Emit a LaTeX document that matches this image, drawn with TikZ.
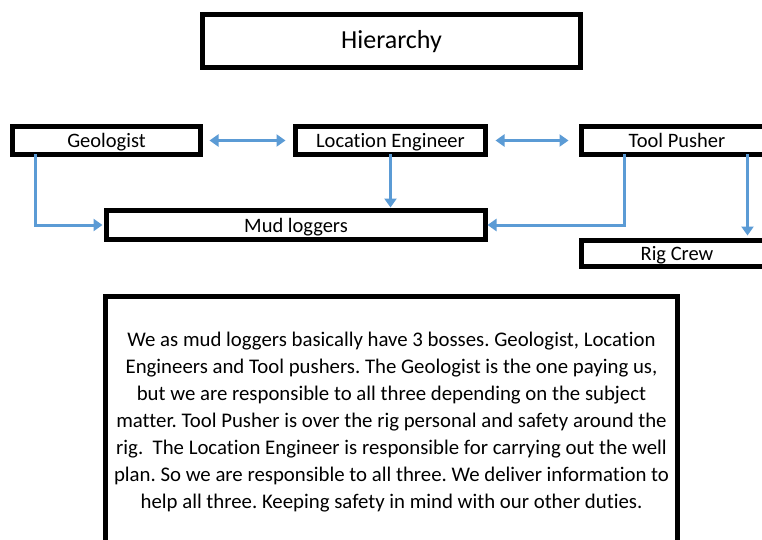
\documentclass[tikz,border=0pt]{standalone}
\usepackage{fontspec}
\setmainfont{Carlito}[Ligatures=NoCommon]
\usetikzlibrary{calc,arrows.meta}
\definecolor{arrblue}{HTML}{5B9BD5}
\frenchspacing
\tikzset{
  x=1pt,y=1pt,
  box/.style={draw=black,line width=5pt,fill=white,inner sep=0pt,outer sep=0pt,text height=15pt,text depth=1pt,font=\fontsize{20.5}{24}\selectfont},
  arr/.style={draw=arrblue,line width=3pt,-{Triangle[width=12pt,length=9pt]}},
  arr2/.style={draw=arrblue,line width=3pt,{Triangle[width=12pt,length=9pt]}-{Triangle[width=12pt,length=9pt]}}
}
\begin{document}
\begin{tikzpicture}
\clip (0,0) rectangle (762,539);
\fill[white] (0,0) rectangle (762,539);
\node[box,minimum width=378pt,minimum height=53pt,text height=18pt,text depth=2pt,font=\fontsize{26}{30}\selectfont] (hier) at (391.5,498) {Hierarchy};
\node[box,minimum width=188pt,minimum height=28pt] (geo) at (106.5,398.5) {Geologist};
\node[box,minimum width=190pt,minimum height=28pt] (loc) at (390.5,398.5) {Location Engineer};
\node[box,minimum width=191pt,minimum height=28pt] (tool) at (677,398.5) {Tool Pusher};
\node[box,minimum width=379pt,minimum height=29pt] (mud) at (296,314) {Mud loggers};
\node[box,minimum width=191pt,minimum height=26pt] (rig) at (677,285.5) {Rig Crew};
\node[box,minimum width=572pt,minimum height=251pt,align=center,text height=,text depth=,font=\fontsize{20.8}{27}\selectfont] (txt) at (391.5,117) {We as mud loggers basically have 3 bosses. Geologist, Location\\Engineers and Tool pushers. The Geologist is the one paying us,\\but we are responsible to all three depending on the subject\\matter. Tool Pusher is over the rig personal and safety around the\\rig.\ \ The Location Engineer is responsible for carrying out the well\\plan. So we are responsible to all three. We deliver information to\\help all three. Keeping safety in mind with our other duties.};
\draw[arr2,shorten <=9pt,shorten >=10pt] (geo) -- (loc);
\draw[arr2,shorten <=10pt,shorten >=13pt] (loc) -- (tool);
\draw[arr,shorten >=4pt] ($(geo.south west)+(23,0)$) |- (mud.west);
\draw[arr,shorten >=3pt] (loc.south) -- (mud.north -| loc.south);
\draw[arr,shorten >=2pt] ($(tool.south west)+(43,0)$) |- (mud.east);
\coordinate (rx) at ($(tool.south west)+(166,0)$);
\draw[arr,shorten >=5pt] (rx) -- (rx |- rig.north);
\end{tikzpicture}
\end{document}
